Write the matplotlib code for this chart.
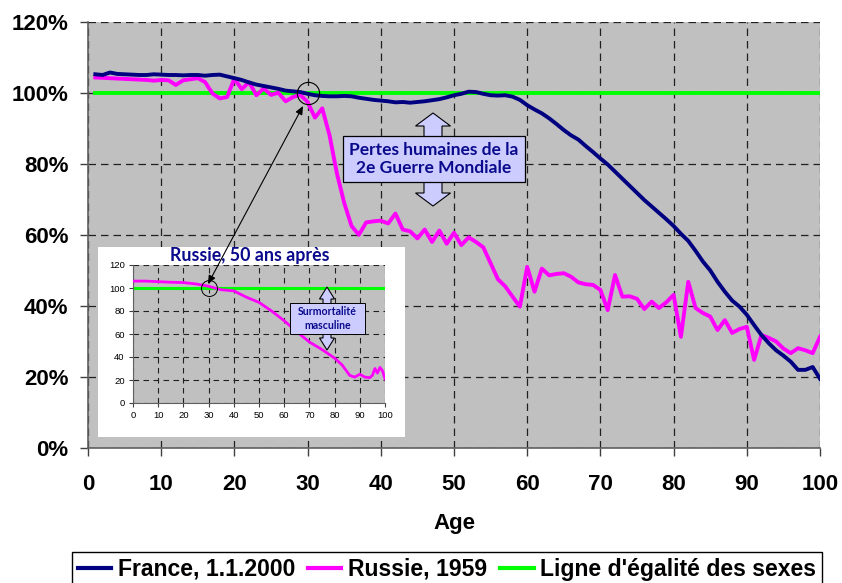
import matplotlib
matplotlib.use("Agg")
import matplotlib.pyplot as plt
from matplotlib.patches import Rectangle, Polygon, FancyArrowPatch
from matplotlib.lines import Line2D

# ---------------- data ----------------
ages = list(range(1, 101))
france_2000 = [105.2, 105.0, 105.7, 105.3, 105.2, 105.1, 105.0, 105.0, 105.2, 105.1,
               105.0, 105.0, 104.9, 105.0, 105.0, 104.8, 105.0, 105.1, 104.6, 104.1,
               103.6, 102.9, 102.3, 101.9, 101.5, 101.1, 100.6, 100.4, 100.2, 99.7,
               99.3, 99.1, 99.0, 99.0, 99.1, 99.0, 98.6, 98.3, 98.0, 97.8,
               97.6, 97.3, 97.4, 97.2, 97.4, 97.6, 97.9, 98.2, 98.7, 99.3,
               99.7, 100.3, 100.2, 99.7, 99.3, 99.2, 99.3, 98.9, 98.0, 96.5,
               95.3, 94.2, 92.8, 91.2, 89.5, 88.0, 86.8, 85.0, 83.3, 81.5,
               79.8, 77.8, 75.8, 73.8, 71.8, 69.8, 68.0, 66.2, 64.4, 62.5,
               60.3, 58.3, 55.5, 52.5, 50.0, 46.8, 44.0, 41.5, 39.8, 37.5,
               34.6, 31.8, 29.5, 27.5, 26.0, 24.3, 22.0, 22.0, 22.8, 19.5]
russie_1959 = [104.3, 104.2, 104.1, 104.0, 103.9, 103.8, 103.7, 103.6, 103.4, 103.6,
               103.5, 102.2, 103.5, 103.8, 104.1, 103.0, 99.8, 98.4, 98.8, 104.0,
               101.0, 103.0, 99.3, 101.2, 99.4, 100.0, 97.6, 98.8, 99.4, 97.4,
               93.0, 95.6, 88.0, 77.3, 69.0, 62.5, 60.0, 63.5, 63.8, 64.0,
               63.2, 66.0, 61.5, 61.0, 59.0, 61.5, 58.0, 61.2, 57.5, 60.6,
               57.1, 59.3, 58.0, 56.5, 52.0, 47.5, 45.5, 42.6, 39.8, 51.0,
               44.0, 50.5, 48.6, 49.0, 49.2, 48.2, 46.6, 46.1, 45.9, 44.5,
               38.8, 48.7, 42.6, 42.7, 42.0, 39.1, 41.2, 39.4, 41.0, 43.1,
               31.3, 46.8, 39.4, 38.0, 37.0, 33.2, 36.0, 32.4, 33.5, 34.1,
               24.8, 31.8, 31.0, 30.0, 28.0, 26.7, 28.1, 27.5, 26.7, 31.3]
egalite = [100.0] * len(ages)

inset_ages = [0, 5, 10, 15, 20, 25, 30, 35, 40, 45, 50, 55, 60, 65, 70, 75, 78, 80,
              83, 86, 88, 90, 92, 94, 95, 96, 97, 98, 99, 100]
russie_50ans = [106, 106, 105.5, 105, 104.7, 103.5, 101.5, 98.5, 97.5, 92, 87.5, 80,
                71.5, 62, 53, 46.5, 42, 39, 33, 24, 22.5, 25, 22.5, 22, 24, 30, 26,
                31, 28, 21]
inset_egalite_x = [0, 100]
inset_egalite_y = [100, 100]

y_ticks = [0, 20, 40, 60, 80, 100, 120]
y_ticklabels = ["0%", "20%", "40%", "60%", "80%", "100%", "120%"]
x_ticks = [0, 10, 20, 30, 40, 50, 60, 70, 80, 90, 100]

series_labels = ["France, 1.1.2000", "Russie, 1959", "Ligne d'égalité des sexes"]
annot_main = "Pertes humaines de la\n2e Guerre Mondiale"
annot_inset = "Surmortalité\nmasculine"
inset_title = "Russie, 50 ans après"

# ---------------- style ----------------
W, H = 842, 583
NAVY = "#000080"
MAGENTA = "#FF00FF"
GREEN = "#00FF00"
GRAY = "#C0C0C0"
TXTBLUE = "#0A0A8C"
BOXFILL = "#CCCCFF"
plt.rcParams['font.family'] = ['Liberation Sans', 'DejaVu Sans']
CAL = ['Lato', 'DejaVu Sans']

def fx(px):
    return px / W

def fy(py):
    return 1 - py / H

fig = plt.figure(figsize=(W / 100, H / 100), dpi=100)
fig.patch.set_facecolor("white")

ax = fig.add_axes([fx(88), fy(448), fx(820) - fx(88), fy(21.7) - fy(448)])
ax.set_facecolor(GRAY)
ax.plot(ages, france_2000, color=NAVY, lw=2.8, zorder=4, solid_joinstyle='round')
ax.plot(ages, russie_1959, color=MAGENTA, lw=2.8, zorder=3, solid_joinstyle='round')
ax.plot(ages, egalite, color=GREEN, lw=2.8, zorder=2)
ax.set_xlim(0, 100)
ax.set_ylim(0, 120)
ax.set_xticks(x_ticks)
ax.set_yticks(y_ticks)
ax.set_yticklabels(y_ticklabels)
ax.grid(True, color="#202020", lw=0.9, ls=(0, (6, 4)))
ax.set_axisbelow(True)
for s in ["top", "right"]:
    ax.spines[s].set_visible(False)
for s in ["left", "bottom"]:
    ax.spines[s].set_color("#606060")
    ax.spines[s].set_linewidth(1.2)
ax.tick_params(direction="out", length=6, width=1, color="#404040", labelsize=16)
ax.tick_params(axis="x", pad=13)
ax.tick_params(axis="y", pad=8)
for lab in ax.get_xticklabels() + ax.get_yticklabels():
    lab.set_fontweight("bold")
ax.set_xlabel("Age", fontsize=16, fontweight="bold", labelpad=13)

# circle on main chart at (30,100)
ax.plot([30], [100], marker="o", ms=16, mfc="none", mec="black", mew=0.8, zorder=6)

# main annotation: double block arrow + box
def double_arrow(cx, ytop, ybot, shaft_hw, head_hw, head_len, z):
    pts = [(cx, ytop), (cx + head_hw, ytop + head_len), (cx + shaft_hw, ytop + head_len),
           (cx + shaft_hw, ybot - head_len), (cx + head_hw, ybot - head_len), (cx, ybot),
           (cx - head_hw, ybot - head_len), (cx - shaft_hw, ybot - head_len),
           (cx - shaft_hw, ytop + head_len), (cx - head_hw, ytop + head_len)]
    pts = [(fx(x), fy(y)) for x, y in pts]
    fig.add_artist(Polygon(pts, closed=True, transform=fig.transFigure, fc=BOXFILL,
                           ec="black", lw=0.8, zorder=z))

double_arrow(433, 113, 206, 9, 17.5, 13, 1.5)
fig.add_artist(Rectangle((fx(343), fy(182)), fx(525) - fx(343), fy(136) - fy(182),
                         transform=fig.transFigure, fc=BOXFILL, ec="black", lw=0.9, zorder=1.6))
fig.text(fx(434), fy(159), annot_main, ha="center", va="center", fontsize=12.5,
         fontweight="bold", color=TXTBLUE, family=CAL, linespacing=1.2, zorder=1.7)

# inset white background
fig.add_artist(Rectangle((fx(98), fy(437)), fx(405) - fx(98), fy(247) - fy(437),
                         transform=fig.transFigure, fc="white", ec="none", zorder=1))

axi = fig.add_axes([fx(133), fy(403), fx(385) - fx(133), fy(265) - fy(403)])
axi.set_zorder(2)
axi.set_facecolor(GRAY)
axi.plot(inset_ages, russie_50ans, color=MAGENTA, lw=2.0, zorder=3)
axi.plot(inset_egalite_x, inset_egalite_y, color=GREEN, lw=2.2, zorder=2)
axi.set_xlim(0, 100)
axi.set_ylim(0, 120)
axi.set_xticks(x_ticks)
axi.set_yticks([0, 20, 40, 60, 80, 100, 120])
axi.grid(True, color="#202020", lw=0.8, ls=(0, (5, 4)))
axi.set_axisbelow(True)
for s in ["top", "right"]:
    axi.spines[s].set_visible(False)
for s in ["left", "bottom"]:
    axi.spines[s].set_color("#606060")
axi.tick_params(direction="out", length=3, width=0.8, color="#404040", labelsize=6.8, pad=3)
axi.plot([30], [100], marker="o", ms=11.5, mfc="none", mec="black", mew=0.7, zorder=6)

fig.text(fx(250), fy(255), inset_title, ha="center", va="center", fontsize=12.8,
         fontweight="bold", color=TXTBLUE, family=CAL, zorder=3)

# inset annotation
double_arrow(327, 287, 350, 4, 7.5, 12, 3)
fig.add_artist(Rectangle((fx(290), fy(334)), fx(365) - fx(290), fy(303) - fy(334),
                         transform=fig.transFigure, fc=BOXFILL, ec="black", lw=0.7, zorder=3.1))
fig.text(fx(327.5), fy(318.5), annot_inset, ha="center", va="center", fontsize=7.6,
         fontweight="bold", color=TXTBLUE, family=CAL, linespacing=1.25, zorder=3.2)

# connector arrow between the two circles
fig.add_artist(FancyArrowPatch((fx(303), fy(106)), (fx(208), fy(284)),
                               transform=fig.transFigure, arrowstyle="<|-|>,head_length=5,head_width=2.2",
                               color="black", lw=0.8, zorder=5, shrinkA=0, shrinkB=0))

# legend
handles = [Line2D([], [], color=NAVY, lw=3), Line2D([], [], color=MAGENTA, lw=3),
           Line2D([], [], color=GREEN, lw=3)]
leg = fig.legend(handles, series_labels, loc="upper center", bbox_to_anchor=(fx(447), fy(552)),
                 ncol=3, frameon=True, fancybox=False, edgecolor="black", framealpha=1,
                 prop={"weight": "bold", "size": 16.6}, handlelength=1.45, handletextpad=0.3,
                 columnspacing=0.55, borderpad=0.25, borderaxespad=0)
leg.get_frame().set_linewidth(1.0)

fig.savefig("out.png", dpi=100, facecolor="white")
